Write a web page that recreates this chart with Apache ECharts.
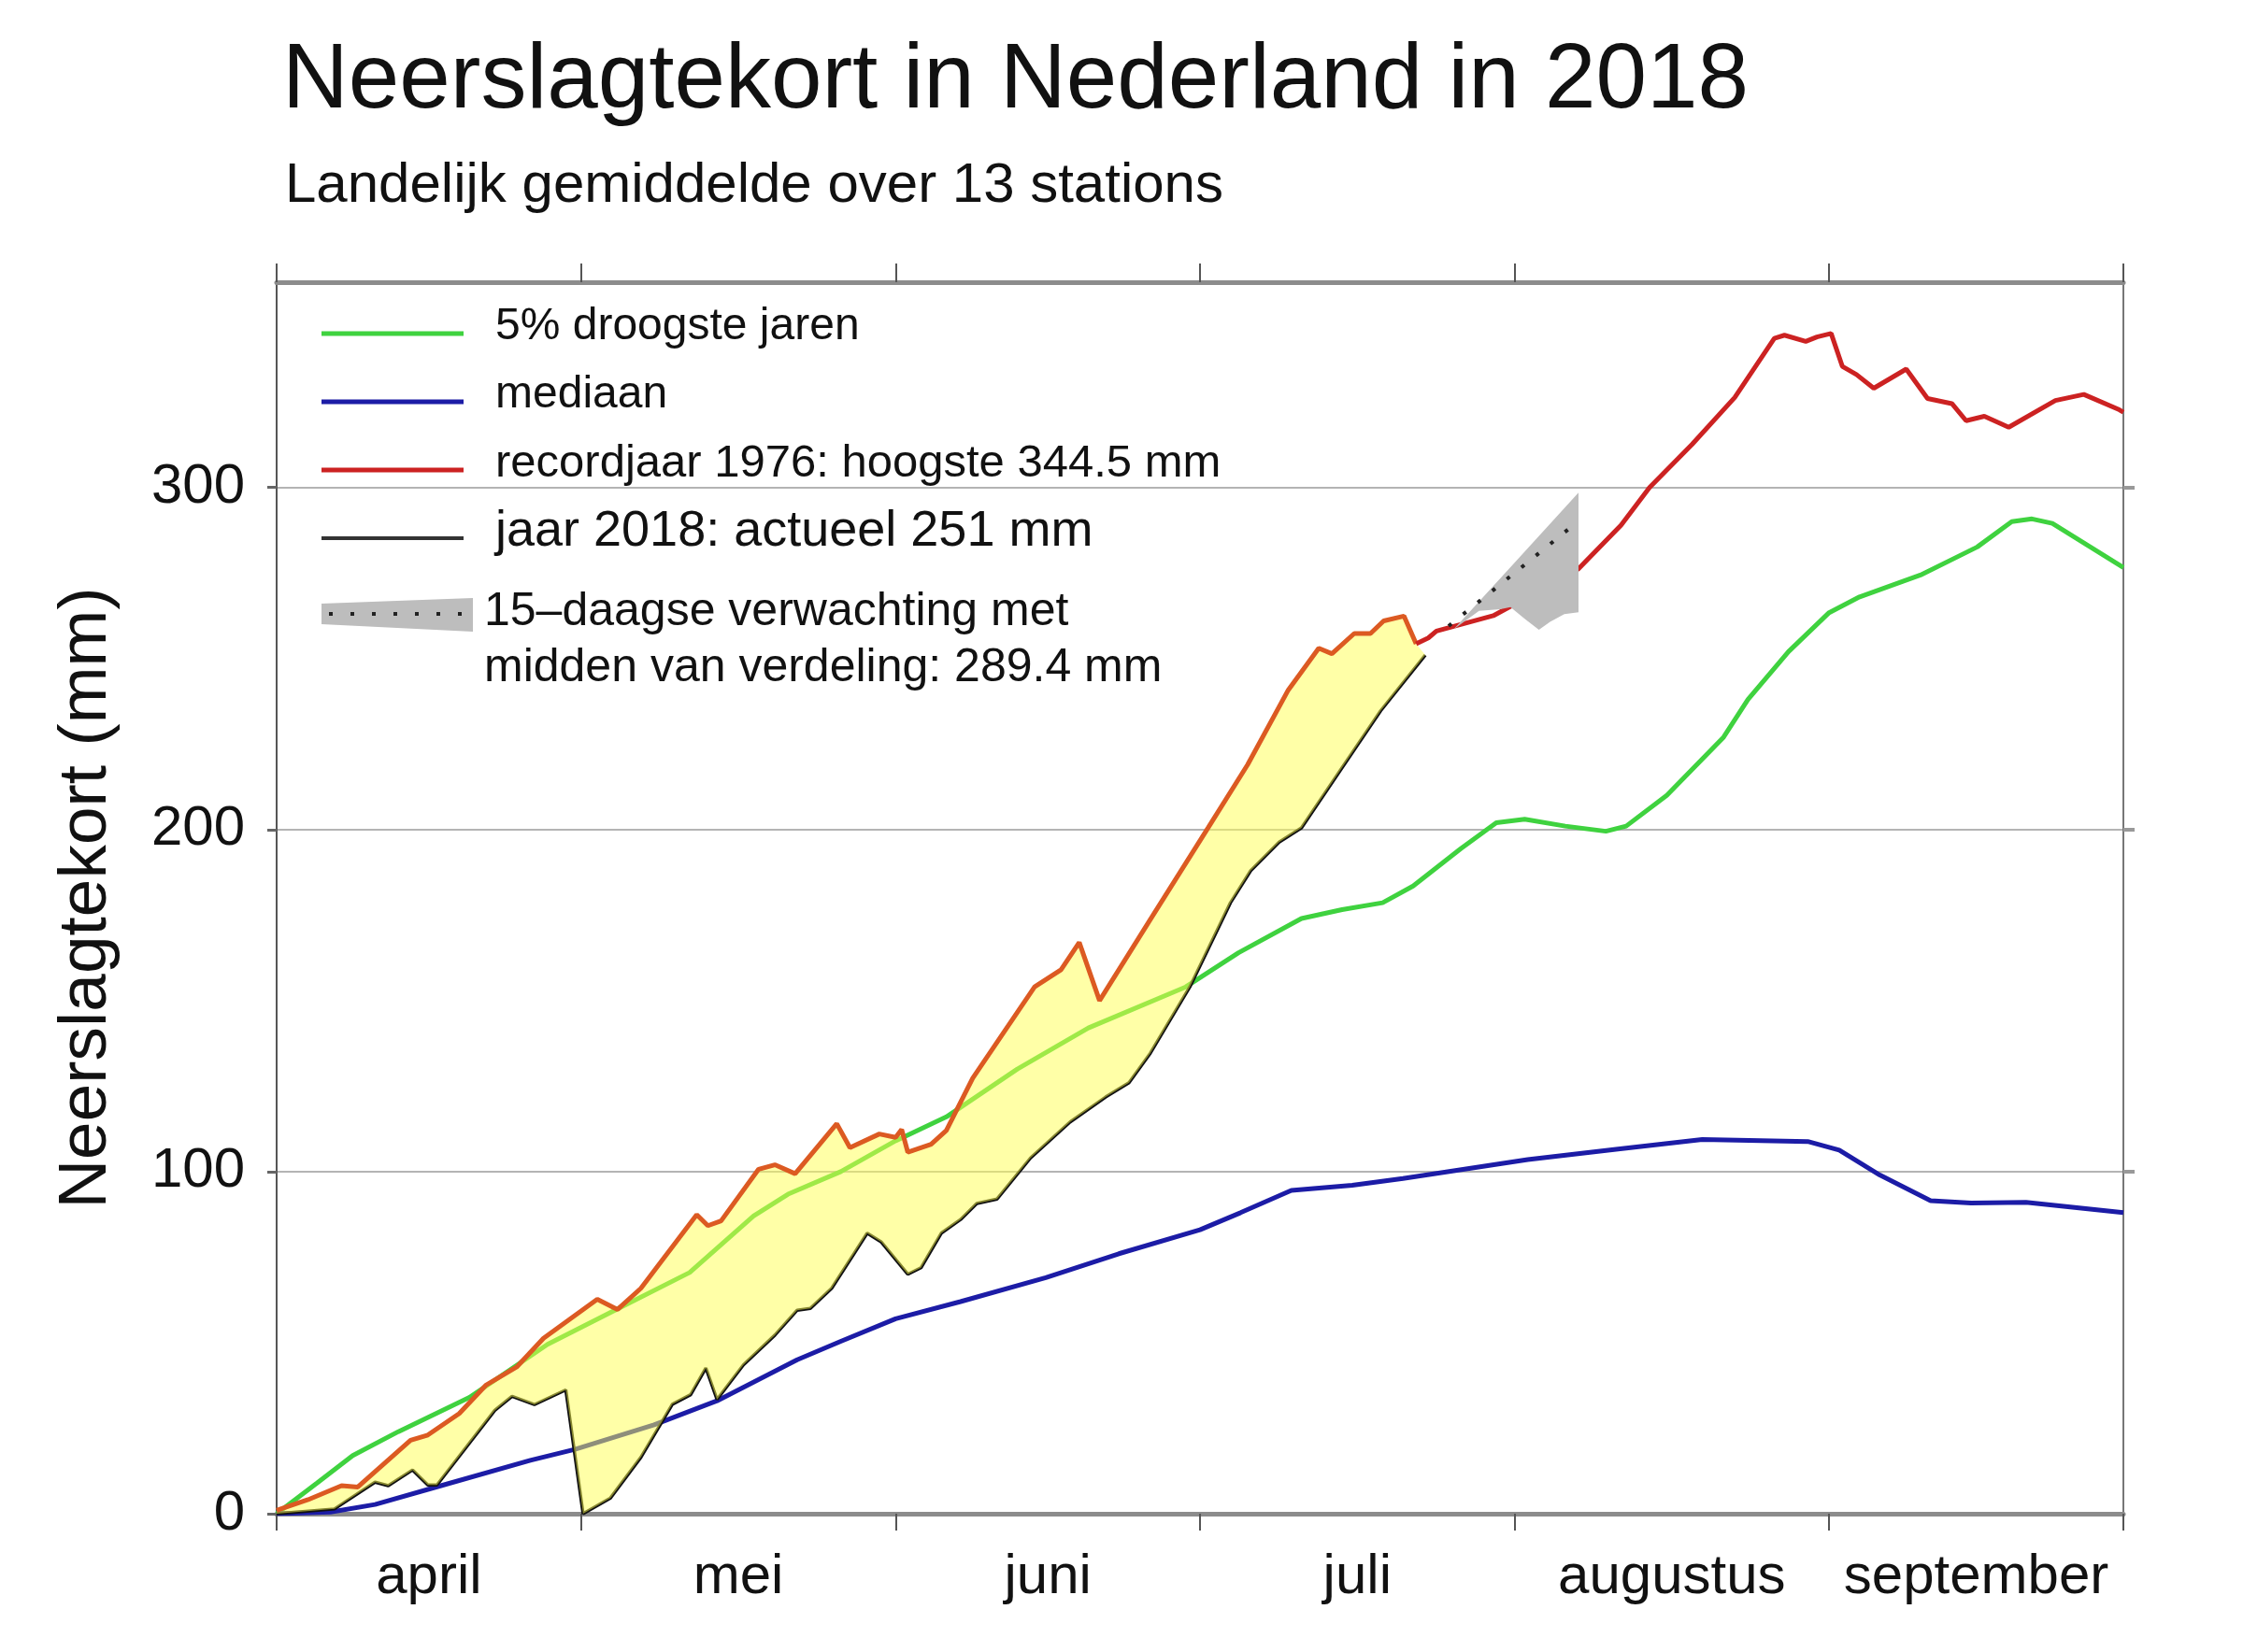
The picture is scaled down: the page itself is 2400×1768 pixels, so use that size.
<!DOCTYPE html>
<html>
<head>
<meta charset="utf-8">
<script src="https://cdn.jsdelivr.net/npm/echarts@6/dist/echarts.min.js"></script>
<style>
html, body { margin: 0; padding: 0; background: #fff; }
#chart { width: 2400px; height: 1768px; }
</style>
</head>
<body>
<div id="chart"></div>
<script>
// x = dagen na 1 april 2018
var monthTickDays = [0, 30, 61, 91, 122, 153, 182];
var monthLabelDays = [15, 45.5, 76, 106.5, 137.5, 167.5];
var monthNames = ['april', 'mei', 'juni', 'juli', 'augustus', 'september'];
var yTicks = [0, 100, 200, 300];

// 5% droogste jaren
var droogDays = [0, 4, 7.5, 12, 19, 26.7, 33.7, 40.7, 47, 50.4, 55.6, 61, 66, 73, 80, 89.6, 94.8, 101, 105, 109, 112, 116.7, 120.2, 123, 127, 131, 133, 137, 142.6, 145, 149, 153, 156, 162, 167.6, 171, 173, 175, 182];
var droogVals = [0, 9, 17, 24, 34, 49.5, 60, 70.5, 87, 93.4, 100, 109, 116, 130, 142, 154, 164, 174, 176.6, 178.6, 183.5, 194.4, 202, 203, 201, 199.5, 201, 210, 227, 238, 252, 263.4, 268, 274.4, 282.6, 290, 290.8, 289.5, 276.6];

// mediaan
var medDays = [0, 5.3, 9.7, 16.2, 25, 29.4, 37.2, 43.4, 51.3, 55.6, 61, 67.4, 75.8, 83, 91, 95, 100, 106, 111, 123.3, 132, 140.5, 150.9, 154, 158, 163, 167, 172.4, 182];
var medVals = [0, 0.5, 2.7, 8.2, 15.6, 18.8, 26, 33, 45, 50.4, 57, 62, 69, 76, 83, 88, 94.5, 96, 98, 103.5, 106.5, 109.4, 108.8, 106.3, 99, 91.5, 90.8, 91, 88];

// recordjaar 1976
var recDays = [0, 3.1, 6.4, 8, 13.2, 14.9, 18, 20.6, 23.7, 26.3, 31.6, 33.6, 35.9, 41.4, 42.5, 43.8, 47.5, 49.1, 51.1, 55.2, 56.5, 59.4, 61, 61.6, 62.2, 64.5, 66, 68.6, 74.7, 77.3, 79.1, 81.1, 86.1, 91.8, 95.7, 99.7, 102.7, 104, 106.2, 107.8, 109.1, 111.1, 112.3, 113.5, 114.3, 116, 119.9, 122.7, 128.3, 132.5, 135.3, 139.5, 143.7, 147.6, 148.6, 150.7, 151.8, 153.2, 154.3, 155.7, 157.4, 160.6, 162.7, 165.1, 166.5, 168.3, 170.7, 175.3, 178.1, 181.6, 182];
var recVals = [1, 4.1, 8.2, 7.8, 21.5, 23, 29.3, 37.5, 43, 51.3, 62.7, 59.7, 65.9, 87.4, 84.2, 85.6, 100.7, 102, 99.4, 114, 107, 111, 110, 112.3, 105.7, 108, 112, 127.3, 154, 159, 167, 150, 173.7, 200.5, 219, 240.8, 253, 251.4, 257.3, 257.3, 261, 262.4, 254.3, 256, 258, 259.4, 262.5, 267, 276.2, 289, 300, 312.6, 326.3, 343.6, 344.5, 342.7, 344, 345, 335.4, 333, 329, 334.6, 326, 324.5, 319.5, 320.8, 317.6, 325.4, 327.2, 322.7, 322];

// jaar 2018
var j2018Days = [0, 5.7, 9.7, 11, 13.4, 14.9, 15.8, 21.5, 23.2, 25.4, 28.5, 30.2, 32.9, 35.9, 39, 40.8, 42.3, 43.4, 46, 49.1, 51.3, 52.6, 54.7, 56.9, 58.2, 59.6, 62.2, 63.5, 65.5, 67.4, 69, 71, 74.3, 78.2, 81.7, 84, 86.1, 90, 94, 96, 98.8, 101, 104.9, 108.8, 113.2];
var j2018Vals = [0, 1.4, 9.2, 8.2, 12.8, 8.4, 8.4, 30.2, 34.3, 31.9, 36.2, 0, 4.6, 16.5, 32, 34.8, 42.6, 33.4, 43.5, 52.2, 59.5, 60, 65.9, 76, 82, 79.4, 70, 71.9, 82, 86, 90.7, 92, 104, 114.5, 121.8, 126, 134.6, 154, 178.6, 188, 196.3, 200.5, 217.6, 234.7, 251];

// 15-daagse verwachting
var fcMidDays = [115.5, 122, 127.6];
var fcMidVals = [259.5, 275, 288.5];
var fcHighDays = [116, 122, 128.3];
var fcHighVals = [258.5, 278, 298.5];
var fcLowDays = [116, 118.5, 120.6, 121.6, 123, 124.4, 125.5, 126.9, 128.3];
var fcLowVals = [258.5, 263.9, 264.4, 265, 261.6, 258.4, 260.7, 263, 263.5];

function zip(days, vals) {
    return days.map(function (d, i) { return [d, vals[i]]; });
}

var droog = zip(droogDays, droogVals);
var mediaan = zip(medDays, medVals);
var record = zip(recDays, recVals);
var jaar2018 = zip(j2018Days, j2018Vals);
var fcMid = zip(fcMidDays, fcMidVals);
var fcHigh = zip(fcHighDays, fcHighVals);
var fcLow = zip(fcLowDays, fcLowVals);
var lastDay2018 = j2018Days[j2018Days.length - 1];

// 1976 opgesplitst: deel binnen het gele vlak en daarna
var recIn = record.filter(function (p) { return p[0] <= lastDay2018; });
var recOut = record.filter(function (p) { return p[0] >= recIn[recIn.length - 1][0]; });

var FONT = 'Liberation Sans, Arial, Helvetica, sans-serif';

function legendText(txt, x, y, size) {
    return {
        type: 'text', x: x, y: y, z: 100,
        style: { text: txt, fontSize: size, fontFamily: FONT, fill: '#111', align: 'left', verticalAlign: 'middle' }
    };
}
function legendLine(color, y, width) {
    return {
        type: 'line', z: 100,
        shape: { x1: 344, y1: y, x2: 496, y2: y },
        style: { stroke: color, lineWidth: width }
    };
}

var chart = echarts.init(document.getElementById('chart'));

var option = {
    backgroundColor: '#fff',
    animation: false,
    grid: { left: 296, right: 128, top: 302, bottom: 148 },
    xAxis: [{
        type: 'value', min: 0, max: 182, position: 'bottom',
        axisLine: { show: true, onZero: false, lineStyle: { color: '#8c8c8c', width: 5 } },
        axisTick: { show: true, customValues: monthTickDays, length: 18, lineStyle: { color: '#555', width: 2 } },
        axisLabel: {
            customValues: monthLabelDays, margin: 38, fontSize: 60, fontFamily: FONT, color: '#111',
            formatter: function (v) {
                var i = monthLabelDays.indexOf(v);
                return i >= 0 ? monthNames[i] : '';
            }
        },
        splitLine: { show: false }
    }, {
        type: 'value', min: 0, max: 182, position: 'top',
        axisLine: { show: true, onZero: false, lineStyle: { color: '#8c8c8c', width: 5 } },
        axisTick: { show: true, customValues: monthTickDays, length: 20, lineStyle: { color: '#555', width: 2 } },
        axisLabel: { show: false },
        splitLine: { show: false }
    }],
    yAxis: [{
        type: 'value', min: 0, max: 360, interval: 100, position: 'left',
        axisLine: { show: true, onZero: false, lineStyle: { color: '#555', width: 2 } },
        axisTick: { show: true, customValues: yTicks, length: 10, lineStyle: { color: '#666', width: 3 } },
        axisLabel: { customValues: yTicks, margin: 34, fontSize: 60, fontFamily: FONT, color: '#111' },
        splitLine: { show: true, lineStyle: { color: '#b4b4b4', width: 2 } }
    }, {
        type: 'value', min: 0, max: 360, interval: 100, position: 'right',
        axisLine: { show: true, onZero: false, lineStyle: { color: '#777', width: 2 } },
        axisTick: { show: true, customValues: [100, 200, 300], length: 12, lineStyle: { color: '#999', width: 4 } },
        axisLabel: { show: false },
        splitLine: { show: false }
    }],
    series: [{
        name: '5% droogste jaren', type: 'line', data: droog, symbol: 'none', z: 2,
        lineStyle: { color: '#3fd23f', width: 5 }
    }, {
        name: 'mediaan', type: 'line', data: mediaan, symbol: 'none', z: 2,
        lineStyle: { color: '#1c1ca6', width: 5 }
    }, {
        name: 'recordjaar 1976', type: 'line', data: recIn, symbol: 'none', z: 4,
        lineStyle: { color: '#dc5a22', width: 5 }
    }, {
        name: 'recordjaar 1976 ', type: 'line', data: recOut, symbol: 'none', z: 4,
        lineStyle: { color: '#cc2222', width: 5 }
    }, {
        name: 'jaar 2018', type: 'line', data: jaar2018, symbol: 'none', z: 2,
        lineStyle: { color: '#111', width: 3.5 }
    }, {
        // geel vlak tussen 1976 en 2018
        type: 'custom', data: [[0, 0]], z: 3, silent: true,
        renderItem: function (params, api) {
            var pts = jaar2018.map(function (p) { return api.coord(p); });
            for (var i = recIn.length - 1; i >= 0; i--) pts.push(api.coord(recIn[i]));
            return { type: 'polygon', shape: { points: pts }, style: { fill: '#ffff50', opacity: 0.5 } };
        }
    }, {
        // verwachtingsband
        type: 'custom', data: [[0, 0]], z: 5, silent: true,
        renderItem: function (params, api) {
            var pts = fcHigh.map(function (p) { return api.coord(p); });
            for (var i = fcLow.length - 1; i >= 0; i--) pts.push(api.coord(fcLow[i]));
            return { type: 'polygon', shape: { points: pts }, style: { fill: '#bdbdbd' } };
        }
    }, {
        name: 'verwachting', type: 'line', data: fcMid, symbol: 'none', z: 6,
        lineStyle: { color: '#222', width: 4, type: [4, 16] }
    }],
    graphic: [
        {
            type: 'text', x: 302, y: 88,
            style: { text: 'Neerslagtekort in Nederland in 2018', fontSize: 98, fontFamily: FONT, fill: '#111', verticalAlign: 'middle' }
        },
        {
            type: 'text', x: 305, y: 199,
            style: { text: 'Landelijk gemiddelde over 13 stations', fontSize: 60, fontFamily: FONT, fill: '#111', verticalAlign: 'middle' }
        },
        {
            type: 'text', x: 93, y: 961, rotation: Math.PI / 2,
            style: { text: 'Neerslagtekort (mm)', fontSize: 73, fontFamily: FONT, fill: '#111', align: 'center', verticalAlign: 'middle' }
        },
        legendLine('#3fd23f', 357, 5),
        legendText('5% droogste jaren', 530, 350, 48),
        legendLine('#1c1ca6', 430, 5),
        legendText('mediaan', 530, 423, 48),
        legendLine('#cc2222', 503, 5),
        legendText('recordjaar 1976: hoogste 344.5 mm', 530, 496, 49),
        legendLine('#333', 576, 4),
        legendText('jaar 2018: actueel 251 mm', 530, 569, 54),
        {
            type: 'polygon', z: 100,
            shape: { points: [[344, 646], [506, 640], [506, 676], [344, 668]] },
            style: { fill: '#bdbdbd' }
        },
        {
            type: 'line', z: 101,
            shape: { x1: 352, y1: 657, x2: 500, y2: 657 },
            style: { stroke: '#222', lineWidth: 4, lineDash: [4, 19] }
        },
        legendText('15\u2013daagse verwachting met', 518, 655, 50),
        legendText('midden van verdeling: 289.4 mm', 518, 715, 50)
    ]
};

chart.setOption(option);
</script>
</body>
</html>
